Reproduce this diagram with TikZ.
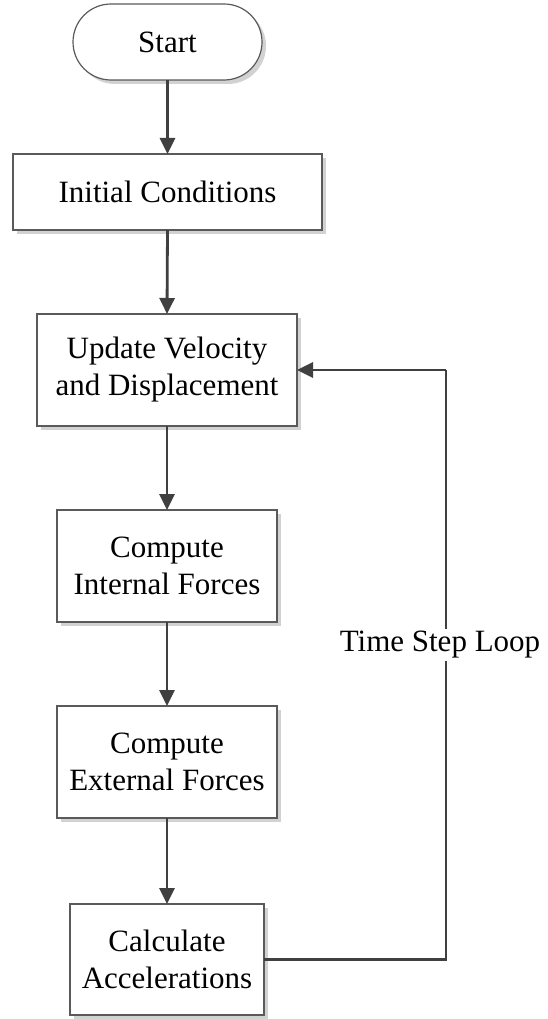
\documentclass[tikz,border=0pt]{standalone}
\usepackage{fontspec}
\setmainfont{Liberation Serif}
\usetikzlibrary{arrows.meta,shapes.misc,shadows}
\definecolor{linegray}{HTML}{404040}
\definecolor{framegray}{HTML}{5A5A5A}
\definecolor{shadegray}{HTML}{D2D2D2}
\begin{document}
\begin{tikzpicture}[x=1pt,y=-1pt,
  font=\fontsize{31}{37}\selectfont,
  boxstyle/.style={draw=framegray, line width=1.2pt, fill=white, inner sep=0pt, outer sep=0pt,
    align=center,
    drop shadow={shadow xshift=4pt, shadow yshift=-4pt, fill=shadegray, opacity=1}},
  termstyle/.style={boxstyle, rounded rectangle},
  flow/.style={draw=linegray, line width=2.8pt, -{Triangle[width=15pt,length=16pt]}},
  loopline/.style={draw=linegray, line width=2.8pt}]
\useasboundingbox (0,0) rectangle (547,1019);

\node[termstyle, minimum width=189pt, minimum height=76pt] (start) at (167.5,42) {Start};
\node[boxstyle, minimum width=309pt, minimum height=76pt] (init) at (167.5,192) {Initial Conditions};
\node[boxstyle, minimum width=260pt, minimum height=112pt] (update) at (167,370) {Update Velocity\\and Displacement};
\node[boxstyle, minimum width=220pt, minimum height=112pt] (internal) at (167,566) {Compute\\Internal Forces};
\node[boxstyle, minimum width=220pt, minimum height=112pt] (external) at (167,762) {Compute\\External Forces};
\node[boxstyle, minimum width=194pt, minimum height=111pt] (accel) at (167,959.5) {Calculate\\Accelerations};

\draw[flow] (start.south) -- (init.north);
\draw[flow] (init.south) -- (update.north);
\draw[flow] (update.south) -- (internal.north);
\draw[flow] (internal.south) -- (external.north);
\draw[flow] (external.south) -- (accel.north);

% time step loop back to the velocity update
\coordinate (loopbot) at (446,959.5);
\coordinate (looptop) at (446,370);
\draw[loopline] (accel.east) -- (loopbot) -- (looptop);
\draw[flow] (looptop) -- (update.east);
\node[fill=white, inner sep=2pt] (looplabel) at (440,645) {Time Step Loop};
\end{tikzpicture}
\end{document}
